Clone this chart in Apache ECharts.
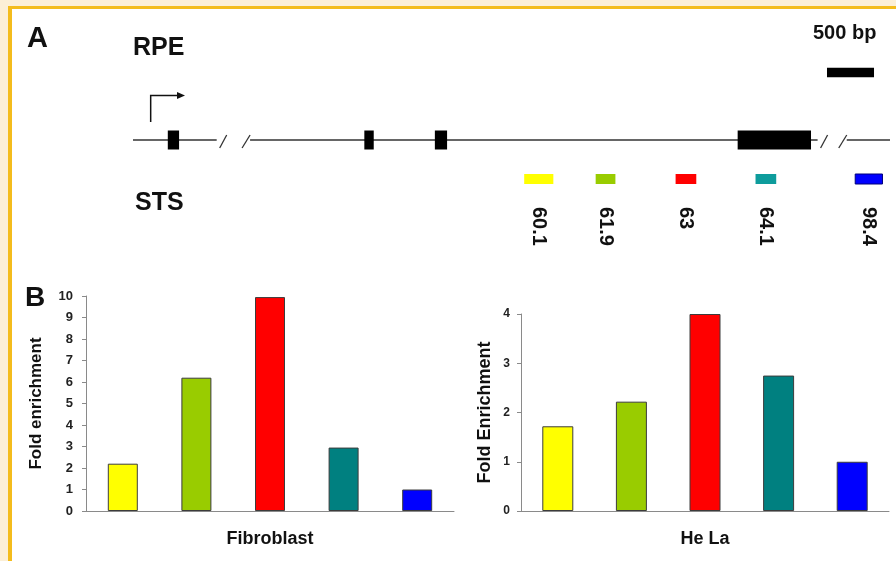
<!DOCTYPE html>
<html><head><meta charset="utf-8">
<script src="https://cdn.jsdelivr.net/npm/echarts@6/dist/echarts.min.js"></script>
<style>
html,body{margin:0;padding:0;background:#FCEFD6;overflow:hidden;width:896px;height:561px}
#frame{position:absolute;left:8px;top:6px;width:900px;height:600px;background:#fff;border-left:4px solid #F4BC1C;border-top:3px solid #F4BC1C;}
#chart{position:absolute;left:0;top:0;width:896px;height:561px}
</style></head><body>
<div id="frame"></div><div id="chart"></div>
<script>
// ---- bar chart data ----
const categories = ['60.1', '61.9', '63', '64.1', '98.4'];
const fibroblastValues = [2.2, 6.2, 9.95, 2.95, 1.0];
const helaValues = [1.72, 2.22, 4.0, 2.75, 1.0];
const fibroTicks = [0, 1, 2, 3, 4, 5, 6, 7, 8, 9, 10];
const helaTicks = [0, 1, 2, 3, 4];
// ---- gene diagram data (bp from start of drawn region) ----
const geneSegments = [[0, 890], [1245, 7280], [7590, 8050]];
const geneBreaks = [[890, 1245], [7280, 7590]];
const exons = [[370, 490], [2460, 2560], [3210, 3340], [6430, 7210]];
const tssArrow = [[188, 553]];
const stsStart = [4160, 4920, 5770, 6620, 7680];
const stsEnd = [4470, 5130, 5990, 6840, 7970];
const scaleBar = [[7380, 7880]];

// ---- styles ----
const barColors = ['#FFFF00', '#99CC00', '#FF0000', '#008080', '#0000FF'];
const stsColors = ['#FFFF00', '#99CC00', '#FF0000', '#0E9C9C', '#0000FF'];
const FONT = '"Liberation Sans", Arial, sans-serif';
const GENE_Y = 100, STS_Y = 139, SCALE_Y = 32.5;

const chart = echarts.init(document.getElementById('chart'), null, {renderer: 'canvas'});

function lineStyle(w) { return {stroke: '#333', lineWidth: w}; }

const option = {
  animation: false,
  backgroundColor: 'transparent',
  textStyle: {fontFamily: FONT},
  title: [
    {text: 'A', left: 27, top: 24, padding: 0, textStyle: {fontSize: 29, fontWeight: 'bold', color: '#111', fontFamily: FONT}},
    {text: 'RPE', left: 133, top: 36, padding: 0, textStyle: {fontSize: 25, fontWeight: 'bold', color: '#111', fontFamily: FONT}},
    {text: 'STS', left: 135, top: 191, padding: 0, textStyle: {fontSize: 25, fontWeight: 'bold', color: '#111', fontFamily: FONT}},
    {text: '500 bp', left: 813, top: 23, padding: 0, textStyle: {fontSize: 20, fontWeight: 'bold', color: '#111', fontFamily: FONT}},
    {text: 'B', left: 25, top: 284, padding: 0, textStyle: {fontSize: 28, fontWeight: 'bold', color: '#111', fontFamily: FONT}}
  ],
  grid: [
    {left: 133, width: 757, top: 40, height: 150},
    {left: 86, width: 368, top: 296, height: 215},
    {left: 521, width: 368, top: 314, height: 197}
  ],
  xAxis: [
    {gridIndex: 0, type: 'value', min: 0, max: 8050, show: false},
    {gridIndex: 1, type: 'category', data: categories,
      axisLine: {lineStyle: {color: '#8a8a8a', width: 1}}, axisTick: {show: false}, axisLabel: {show: false},
      name: 'Fibroblast', nameLocation: 'middle', nameGap: 19,
      nameTextStyle: {fontSize: 18, fontWeight: 'bold', color: '#111', fontFamily: FONT}},
    {gridIndex: 2, type: 'category', data: categories,
      axisLine: {lineStyle: {color: '#8a8a8a', width: 1}}, axisTick: {show: false}, axisLabel: {show: false},
      name: 'He La', nameLocation: 'middle', nameGap: 19,
      nameTextStyle: {fontSize: 18, fontWeight: 'bold', color: '#111', fontFamily: FONT}}
  ],
  yAxis: [
    {gridIndex: 0, type: 'value', min: 0, max: 150, inverse: true, show: false},
    {gridIndex: 1, type: 'value', min: fibroTicks[0], max: fibroTicks[fibroTicks.length - 1], interval: fibroTicks[1] - fibroTicks[0],
      axisLine: {show: true, lineStyle: {color: '#8a8a8a', width: 1}},
      axisTick: {show: true, length: 4, lineStyle: {color: '#8a8a8a'}},
      splitLine: {show: false},
      axisLabel: {margin: 13, fontSize: 13, fontWeight: 'bold', color: '#222', fontFamily: FONT},
      name: 'Fold enrichment', nameLocation: 'middle', nameRotate: 90, nameGap: 41,
      nameTextStyle: {fontSize: 17, fontWeight: 'bold', color: '#111', fontFamily: FONT}},
    {gridIndex: 2, type: 'value', min: helaTicks[0], max: helaTicks[helaTicks.length - 1], interval: helaTicks[1] - helaTicks[0],
      axisLine: {show: true, lineStyle: {color: '#8a8a8a', width: 1}},
      axisTick: {show: true, length: 4, lineStyle: {color: '#8a8a8a'}},
      splitLine: {show: false},
      axisLabel: {margin: 11, fontSize: 12, fontWeight: 'bold', color: '#222', fontFamily: FONT},
      name: 'Fold Enrichment', nameLocation: 'middle', nameRotate: 90, nameGap: 27,
      nameTextStyle: {fontSize: 18, fontWeight: 'bold', color: '#111', fontFamily: FONT}}
  ],
  series: [
    // gene backbone
    {type: 'custom', xAxisIndex: 0, yAxisIndex: 0, data: geneSegments, encode: {x: [0, 1]}, silent: true,
      renderItem: function (p, api) {
        const a = api.coord([api.value(0), GENE_Y]);
        const b = api.coord([api.value(1), GENE_Y]);
        return {type: 'line', shape: {x1: a[0], y1: a[1], x2: b[0], y2: b[1]}, style: lineStyle(1.6)};
      }},
    // breaks "/ /"
    {type: 'custom', xAxisIndex: 0, yAxisIndex: 0, data: geneBreaks, encode: {x: [0, 1]}, silent: true,
      renderItem: function (p, api) {
        const a = api.coord([api.value(0), GENE_Y]);
        const b = api.coord([api.value(1), GENE_Y]);
        const y = a[1];
        return {type: 'group', children: [
          {type: 'line', shape: {x1: a[0] + 3, y1: y + 8, x2: a[0] + 10, y2: y - 5}, style: lineStyle(1.3)},
          {type: 'line', shape: {x1: b[0] - 8, y1: y + 8, x2: b[0], y2: y - 5}, style: lineStyle(1.3)}
        ]};
      }},
    // exons
    {type: 'custom', xAxisIndex: 0, yAxisIndex: 0, data: exons, encode: {x: [0, 1]}, silent: true,
      renderItem: function (p, api) {
        const a = api.coord([api.value(0), GENE_Y]);
        const b = api.coord([api.value(1), GENE_Y]);
        return {type: 'rect', shape: {x: a[0], y: a[1] - 9.5, width: b[0] - a[0], height: 19}, style: {fill: '#000'}};
      }},
    // transcription start arrow
    {type: 'custom', xAxisIndex: 0, yAxisIndex: 0, data: tssArrow, encode: {x: [0, 1]}, silent: true,
      renderItem: function (p, api) {
        const a = api.coord([api.value(0), GENE_Y]);
        const b = api.coord([api.value(1), GENE_Y]);
        const y = a[1];
        return {type: 'group', children: [
          {type: 'polyline', shape: {points: [[a[0], y - 18], [a[0], y - 44.5], [b[0] - 6, y - 44.5]]}, style: {stroke: '#111', lineWidth: 1.5, fill: null}},
          {type: 'polygon', shape: {points: [[b[0] - 8, y - 48], [b[0], y - 44.5], [b[0] - 8, y - 41]]}, style: {fill: '#111'}}
        ]};
      }},
    // STS amplicons
    {type: 'custom', xAxisIndex: 0, yAxisIndex: 0, silent: true,
      data: stsStart.map(function (s, i) { return [s, stsEnd[i], i]; }), encode: {x: [0, 1]},
      renderItem: function (p, api) {
        const i = api.value(2);
        const a = api.coord([api.value(0), STS_Y]);
        const b = api.coord([api.value(1), STS_Y]);
        const cx = (a[0] + b[0]) / 2;
        return {type: 'group', children: [
          {type: 'rect', shape: {x: a[0], y: a[1] - 5, width: b[0] - a[0], height: 10},
            style: {fill: stsColors[i], stroke: i === 4 ? '#00007a' : null, lineWidth: i === 4 ? 1 : 0}},
          {type: 'text', x: cx, y: a[1] + 28, rotation: -Math.PI / 2,
            style: {text: categories[i], align: 'left', verticalAlign: 'middle', fill: '#111',
              font: 'bold 20px ' + FONT}}
        ]};
      }},
    // scale bar
    {type: 'custom', xAxisIndex: 0, yAxisIndex: 0, data: scaleBar, encode: {x: [0, 1]}, silent: true,
      renderItem: function (p, api) {
        const a = api.coord([api.value(0), SCALE_Y]);
        const b = api.coord([api.value(1), SCALE_Y]);
        return {type: 'rect', shape: {x: a[0], y: a[1] - 4.8, width: b[0] - a[0], height: 9.6}, style: {fill: '#000'}};
      }},
    // bar charts
    {type: 'bar', xAxisIndex: 1, yAxisIndex: 1, barWidth: 30, data: fibroblastValues,
      itemStyle: {color: function (p) { return barColors[p.dataIndex]; }, borderColor: '#3c3c3c', borderWidth: 1}},
    {type: 'bar', xAxisIndex: 2, yAxisIndex: 2, barWidth: 31, data: helaValues,
      itemStyle: {color: function (p) { return barColors[p.dataIndex]; }, borderColor: '#3c3c3c', borderWidth: 1}}
  ]
};
chart.setOption(option);
</script>
</body></html>
